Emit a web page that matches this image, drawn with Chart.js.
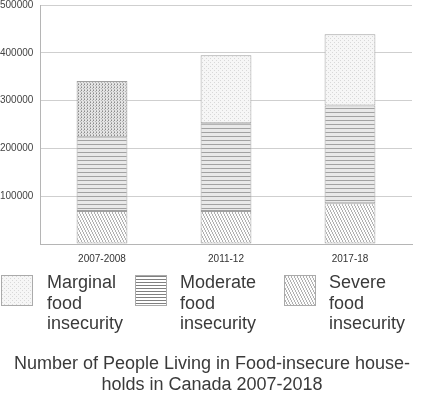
<!DOCTYPE html>
<html>
<head>
<meta charset="utf-8">
<script src="https://cdn.jsdelivr.net/npm/chart.js@4/dist/chart.umd.min.js"></script>
<style>
  html, body { margin: 0; padding: 0; background: #fff; }
  #wrap { width: 424px; height: 396px; }
</style>
</head>
<body>
<div id="wrap"><canvas id="food-chart" width="424" height="396"></canvas></div>
<script>
// data (people, stacked)
const years = ["2007-2008", "2011-12", "2017-18"];
const severe = [69000, 69000, 85000];
const moderate = [154500, 183500, 204500];
const marginal = [117500, 142500, 149500];
const seriesNames = [
  ["Marginal", "food", "insecurity"],
  ["Moderate", "food", "insecurity"],
  ["Severe", "food", "insecurity"]
];
const titleLines = ["Number of People Living in Food-insecure house-", "holds in Canada 2007-2018"];

const fontFamily = "'Liberation Sans', Arial, sans-serif";

// little tiles for the hatch fills
function makePattern(w, h, draw) {
  const c = document.createElement('canvas');
  c.width = w;
  c.height = h;
  const g = c.getContext('2d');
  draw(g);
  return g.createPattern(c, 'repeat');
}

const marginalDark = makePattern(3, 3, g => {
  g.fillStyle = '#e4e4e4';
  g.fillRect(0, 0, 3, 3);
  g.fillStyle = '#8a8a8a';
  g.fillRect(0, 0, 1, 1);
  g.fillStyle = '#b4b4b4';
  g.fillRect(0, 2, 1, 1);
  g.fillRect(2, 1, 1, 1);
});

const marginalLight = makePattern(4, 4, g => {
  g.fillStyle = '#f6f6f6';
  g.fillRect(0, 0, 4, 4);
  g.fillStyle = '#d8d8d8';
  g.fillRect(0, 0, 1, 1);
  g.fillRect(2, 2, 1, 1);
});

const moderateFill = makePattern(1, 4, g => {
  g.fillStyle = '#e9e9e9';
  g.fillRect(0, 0, 1, 4);
  g.fillStyle = '#a2a2a2';
  g.fillRect(0, 0, 1, 1);
});

const moderateLegend = makePattern(1, 3, g => {
  g.fillStyle = '#ffffff';
  g.fillRect(0, 0, 1, 3);
  g.fillStyle = '#808080';
  g.fillRect(0, 0, 1, 1);
});

const severeFill = makePattern(3, 6, g => {
  g.fillStyle = '#fbfbfb';
  g.fillRect(0, 0, 3, 6);
  g.fillStyle = '#b0b0b0';
  for (let y = 0; y < 6; y++) g.fillRect(Math.floor(y / 2), y, 1, 1);
});

const barStyle = {
  borderColor: '#a0a0a0',
  borderWidth: 1,
  borderSkipped: false,
  barPercentage: 0.41,
  categoryPercentage: 1
};

// legend + title under the plot
const bottomText = {
  id: 'bottomText',
  afterDraw(chart) {
    const ctx = chart.ctx;
    const boxes = [
      { x: 1, text: 47, fill: marginalLight },
      { x: 135, text: 180, fill: moderateLegend },
      { x: 284, text: 329, fill: severeFill }
    ];
    ctx.save();
    boxes.forEach((b, i) => {
      ctx.fillStyle = b.fill;
      ctx.fillRect(b.x, 275, 32, 31);
      ctx.strokeStyle = '#aaaaaa';
      ctx.lineWidth = 1;
      ctx.strokeRect(b.x + 0.5, 275.5, 31, 30);
      ctx.fillStyle = '#3a3a3a';
      ctx.font = '18px ' + fontFamily;
      ctx.textBaseline = 'alphabetic';
      ctx.textAlign = 'left';
      seriesNames[i].forEach((line, j) => {
        ctx.fillText(line, b.text, 288 + j * 20.5);
      });
    });
    ctx.font = '18px ' + fontFamily;
    ctx.textAlign = 'center';
    ctx.fillStyle = '#3a3a3a';
    titleLines.forEach((line, j) => {
      ctx.fillText(line, 212, 369 + j * 21);
    });
    ctx.restore();
  }
};

const foodCanvas = document.getElementById('food-chart');

let foodChart = new Chart(foodCanvas, {
  type: 'bar',
  data: {
    labels: years,
    datasets: [
      Object.assign({ label: 'Severe food insecurity', data: severe, backgroundColor: severeFill }, barStyle),
      Object.assign({ label: 'Moderate food insecurity', data: moderate, backgroundColor: moderateFill }, barStyle),
      Object.assign({ label: 'Marginal food insecurity', data: marginal, backgroundColor: [marginalDark, marginalLight, marginalLight] }, barStyle)
    ]
  },
  options: {
    responsive: false,
    animation: false,
    layout: {
      padding: { left: 0, right: 12, top: 5, bottom: 131 }
    },
    scales: {
      x: {
        stacked: true,
        grid: { display: false },
        border: { color: '#b5b5b5' },
        ticks: { color: '#333', font: { family: fontFamily, size: 10 }, padding: 1 },
        afterFit(scale) {
          scale.height = 21;
          scale.paddingLeft = 0;
          scale.paddingRight = 0;
        }
      },
      y: {
        stacked: true,
        min: 0,
        max: 500000,
        grid: { color: '#cfcfcf', drawTicks: false },
        border: { color: '#b5b5b5' },
        ticks: {
          stepSize: 100000,
          color: '#444',
          font: { family: fontFamily, size: 10 },
          crossAlign: 'far',
          padding: 6,
          callback: v => v === 0 ? '' : String(v)
        },
        afterFit(scale) {
          scale.width = 40;
          scale.paddingTop = 0;
          scale.paddingBottom = 0;
        }
      }
    },
    plugins: {
      legend: { display: false },
      tooltip: { enabled: false }
    }
  },
  plugins: [bottomText]
});
</script>
</body>
</html>
